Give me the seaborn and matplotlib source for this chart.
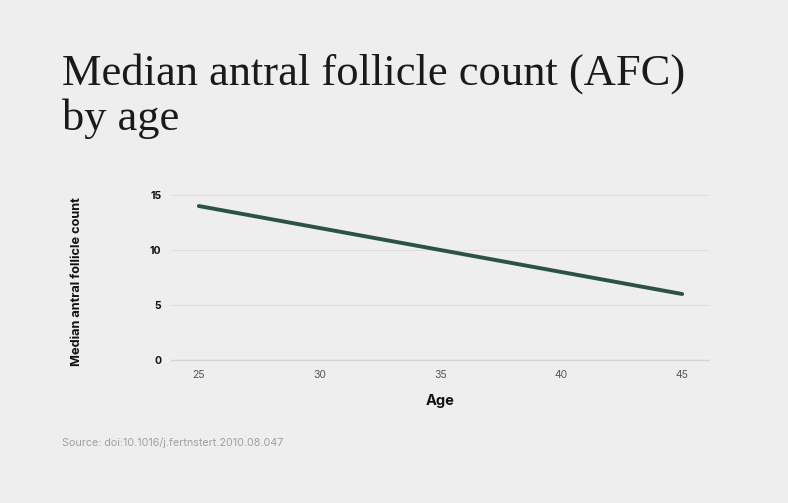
import matplotlib
matplotlib.use("Agg")
import matplotlib.pyplot as plt
import seaborn as sns
import pandas as pd

ages = [25, 30, 35, 40, 45]
afc = [14, 12, 10, 8, 6]
x_ticks = [25, 30, 35, 40, 45]
y_ticks = [0, 5, 10, 15]

title = "Median antral follicle count (AFC)\nby age"
xlabel = "Age"
ylabel = "Median antral follicle count"
source = "Source: doi:10.1016/j.fertnstert.2010.08.047"

BG = "#eeeeee"
sns.set_theme(style="white")
plt.rcParams['font.family'] = ['Inter', 'DejaVu Sans']

df = pd.DataFrame({"Age": ages, "AFC": afc})

fig = plt.figure(figsize=(7.88, 5.03), dpi=100, facecolor=BG)
ax = fig.add_axes([0.217, 0.2843, 0.683, 0.328])
ax.set_facecolor(BG)

sns.lineplot(data=df, x="Age", y="AFC", ax=ax, color="#2b5148", linewidth=2.8,
             solid_capstyle="round")

ax.set_xlim(23.85, 46.12)
ax.set_ylim(0, 15)
ax.set_xticks(x_ticks)
ax.set_yticks(y_ticks)
ax.grid(axis="y", color="#dedede", linewidth=0.8)
ax.grid(axis="x", visible=False)
for s in ["top", "right", "left"]:
    ax.spines[s].set_visible(False)
ax.spines["bottom"].set_color("#d4d4d4")
ax.spines["bottom"].set_linewidth(1.0)
ax.tick_params(axis="both", length=0)
ax.tick_params(axis="x", pad=7, labelsize=7.5, labelcolor="#555555")
ax.tick_params(axis="y", pad=7, labelsize=7.5, labelcolor="#111111")
for lab in ax.get_yticklabels():
    lab.set_fontweight("bold")

ax.set_xlabel(xlabel, fontsize=10.5, fontweight="bold", color="#111111", labelpad=10)
ax.set_ylabel(ylabel, fontsize=9.2, fontweight="bold", color="#111111", labelpad=0)
ax.yaxis.set_label_coords(-0.1636, 0.473)

fig.text(0.0787, 1 - 53 / 503, title, fontsize=32, family=["Liberation Serif", "DejaVu Serif"],
         color="#1a1a1a", va="top", ha="left", linespacing=1.13)
fig.text(0.0787, 1 - 443 / 503, source, fontsize=7.75, color="#a0a0a0", va="center", ha="left")

fig.savefig("out.png", dpi=100, facecolor=BG)
